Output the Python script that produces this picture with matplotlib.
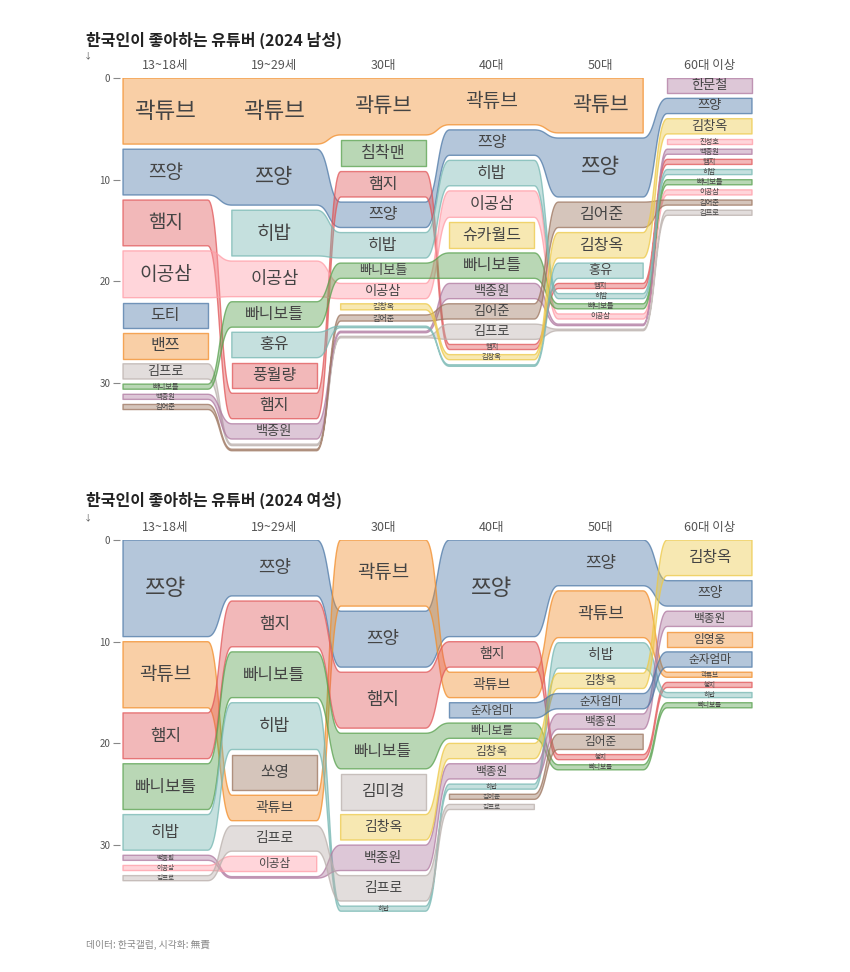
import numpy as np
import matplotlib
matplotlib.use('Agg')
import matplotlib.pyplot as plt
from matplotlib.patches import Polygon
from matplotlib.colors import to_rgba

plt.rcParams['font.family'] = ['Noto Sans CJK KR', 'DejaVu Sans']

# ---------------- data ----------------
age_groups = ['13~18세', '19~29세', '30대', '40대', '50대', '60대 이상']

male_1318 = [('곽튜브', 6.5), ('쯔양', 4.5), ('햄지', 4.5), ('이공삼', 4.6), ('도티', 2.5),
             ('밴쯔', 2.5), ('김프로', 1.5), ('빠니보틀', 0.5), ('백종원', 0.5), ('김어준', 0.5)]
male_1929 = [('곽튜브', 6.5), ('쯔양', 5.5), ('히밥', 4.5), ('이공삼', 3.5), ('빠니보틀', 2.5),
             ('홍유', 2.5), ('풍월량', 2.5), ('햄지', 2.5), ('백종원', 1.5)]
male_30 = [('곽튜브', 5.6), ('침착맨', 2.6), ('햄지', 2.5), ('쯔양', 2.5), ('히밥', 2.5),
           ('빠니보틀', 1.5), ('이공삼', 1.5), ('김창옥', 0.6), ('김어준', 0.6)]
male_40 = [('곽튜브', 4.6), ('쯔양', 2.5), ('히밥', 2.5), ('이공삼', 2.6), ('슈카월드', 2.5),
           ('빠니보틀', 2.5), ('백종원', 1.5), ('김어준', 1.5), ('김프로', 1.5), ('햄지', 0.5),
           ('김창옥', 0.5)]
male_50 = [('곽튜브', 5.4), ('쯔양', 5.8), ('김어준', 2.5), ('김창옥', 2.5), ('홍유', 1.5),
           ('햄지', 0.5), ('히밥', 0.5), ('빠니보틀', 0.5), ('이공삼', 0.5)]
male_60 = [('한문철', 1.5), ('쯔양', 1.5), ('김창옥', 1.5), ('진성호', 0.5), ('백종원', 0.5),
           ('햄지', 0.5), ('히밥', 0.5), ('빠니보틀', 0.5), ('이공삼', 0.5), ('김어준', 0.5),
           ('김프로', 0.5)]

female_1318 = [('쯔양', 9.5), ('곽튜브', 6.5), ('햄지', 4.5), ('빠니보틀', 4.5), ('히밥', 3.5),
               ('백종원', 0.5), ('이공삼', 0.5), ('김프로', 0.5)]
female_1929 = [('쯔양', 5.5), ('햄지', 4.5), ('빠니보틀', 4.5), ('히밥', 4.6), ('쏘영', 3.5),
               ('곽튜브', 2.5), ('김프로', 2.5), ('이공삼', 1.5)]
female_30 = [('곽튜브', 6.5), ('쯔양', 5.5), ('햄지', 5.5), ('빠니보틀', 3.5), ('김미경', 3.5),
             ('김창옥', 2.5), ('백종원', 2.5), ('김프로', 2.5), ('히밥', 0.5)]
female_40 = [('쯔양', 9.5), ('햄지', 2.5), ('곽튜브', 2.5), ('순자엄마', 1.5), ('빠니보틀', 1.5),
             ('김창옥', 1.5), ('백종원', 1.5), ('히밥', 0.5), ('김어준', 0.5), ('김프로', 0.5)]
female_50 = [('쯔양', 4.5), ('곽튜브', 4.6), ('히밥', 2.5), ('김창옥', 1.5), ('순자엄마', 1.5),
             ('백종원', 1.5), ('김어준', 1.5), ('햄지', 0.5), ('빠니보틀', 0.5)]
female_60 = [('김창옥', 3.5), ('쯔양', 2.5), ('백종원', 1.5), ('임영웅', 1.5), ('순자엄마', 1.5),
             ('곽튜브', 0.5), ('햄지', 0.5), ('히밥', 0.5), ('빠니보틀', 0.5)]

male_columns = [male_1318, male_1929, male_30, male_40, male_50, male_60]
female_columns = [female_1318, female_1929, female_30, female_40, female_50, female_60]

title_male = '한국인이 좋아하는 유튜버 (2024 남성)'
title_female = '한국인이 좋아하는 유튜버 (2024 여성)'
footer = '데이터: 한국갤럽, 시각화: 無責'

name_colors = {
    '쯔양': '#4e79a7', '도티': '#4e79a7', '순자엄마': '#4e79a7',
    '곽튜브': '#f28e2b', '밴쯔': '#f28e2b', '임영웅': '#f28e2b',
    '햄지': '#e15759', '풍월량': '#e15759',
    '히밥': '#76b7b2', '홍유': '#76b7b2',
    '빠니보틀': '#59a14f', '침착맨': '#59a14f',
    '김창옥': '#edc948', '슈카월드': '#edc948',
    '백종원': '#b07aa1', '한문철': '#b07aa1',
    '이공삼': '#ff9da7', '진성호': '#ff9da7',
    '김어준': '#9c755f', '쏘영': '#9c755f',
    '김프로': '#bab0ac', '김미경': '#bab0ac',
}

# ---------------- layout helpers ----------------
GAP = 0.5
ZERO_H = 0.15
HW = 0.39  # half bar width in column units


def layout(columns):
    spans = {}
    for ci, col in enumerate(columns):
        for n, v in col:
            if n not in spans:
                spans[n] = [ci, ci]
            spans[n][1] = ci
    pos = []
    for ci, col in enumerate(columns):
        y = 0.0
        d = {}
        for n, v in col:
            d[n] = (y, y + v, v)
            y += v + GAP
        missing = [n for n, (a, b) in spans.items() if a < ci < b and n not in d]
        if ci > 0:
            missing.sort(key=lambda n: pos[ci - 1][n][0])
        for n in missing:
            d[n] = (y, y + ZERO_H, 0)
            y += GAP
        pos.append(d)
    return spans, pos


def bump(x0, y0, x1, y1, n=30):
    t = np.linspace(0, 1, n)
    xm = (x0 + x1) / 2
    bx = (1 - t) ** 3 * x0 + 3 * (1 - t) ** 2 * t * xm + 3 * (1 - t) * t ** 2 * xm + t ** 3 * x1
    by = (1 - t) ** 3 * y0 + 3 * (1 - t) ** 2 * t * y0 + 3 * (1 - t) * t ** 2 * y1 + t ** 3 * y1
    return bx, by


def band_polygon(name, spans, pos):
    a, b = spans[name]
    top, bot = [], []
    for c in range(a, b + 1):
        t, btm, _ = pos[c][name]
        top += [(c - HW, t), (c + HW, t)]
        bot += [(c - HW, btm), (c + HW, btm)]
        if c < b:
            t2, b2, _ = pos[c + 1][name]
            bx, by = bump(c + HW, t, c + 1 - HW, t2)
            top += list(zip(bx[1:-1], by[1:-1]))
            bx, by = bump(c + HW, btm, c + 1 - HW, b2)
            bot += list(zip(bx[1:-1], by[1:-1]))
    return top + bot[::-1]


def label_size(v, vmax):
    r = v / vmax
    px = np.interp(r, [0.05, 0.08, 0.16, 0.25, 0.38, 0.68, 1.0],
                   [5.5, 6.2, 10.0, 11.5, 13.5, 16.0, 19.0])
    return px * 0.85


def draw_chart(ax, columns):
    spans, pos = layout(columns)
    vmax = max(v for col in columns for _, v in col)
    for name in spans:
        col = name_colors[name]
        poly = Polygon(band_polygon(name, spans, pos), closed=True,
                       facecolor=to_rgba(col, 0.42), edgecolor=to_rgba(col, 0.75),
                       linewidth=1.0, joinstyle='round', zorder=2)
        ax.add_patch(poly)
    for ci, col in enumerate(columns):
        for n, v in col:
            t, b, _ = pos[ci][n]
            ax.text(ci, (t + b) / 2, n, ha='center', va='center',
                    fontsize=label_size(v, vmax), color='#444444', zorder=5)
    for ci, g in enumerate(age_groups):
        ax.text(ci, -1.2, g, ha='center', va='center', fontsize=9, color='#555555',
                clip_on=False)
    ax.set_xlim(-0.4176, 5.4176)
    ax.set_ylim(37.2, 0)
    ax.set_yticks([0, 10, 20, 30])
    ax.tick_params(axis='y', length=5, width=0.8, color='#888888', labelsize=7,
                   labelcolor='#555555', pad=2)
    ax.tick_params(axis='x', bottom=False, labelbottom=False)
    for s in ax.spines.values():
        s.set_visible(False)


W, H = 850, 972
fig = plt.figure(figsize=(W / 100, H / 100), dpi=100)

scale = 10.17
ax_left = 120 / W
ax_w = 635 / W
ax_h = 37.2 * scale / H

ax1 = fig.add_axes([ax_left, 1 - (78 + 37.2 * scale) / H, ax_w, ax_h])
draw_chart(ax1, male_columns)
ax2 = fig.add_axes([ax_left, 1 - (540 + 37.2 * scale) / H, ax_w, ax_h])
draw_chart(ax2, female_columns)

fig.text(86 / W, 1 - 40 / H, title_male, fontsize=11.5, fontweight='bold',
         va='center', ha='left', color='#222222')
fig.text(86 / W, 1 - 500 / H, title_female, fontsize=11.5, fontweight='bold',
         va='center', ha='left', color='#222222')
fig.text(88 / W, 1 - 56 / H, '↓', fontsize=6, va='center', ha='center', color='#555555')
fig.text(88 / W, 1 - 518 / H, '↓', fontsize=6, va='center', ha='center', color='#555555')
fig.text(86 / W, 1 - 945 / H, footer, fontsize=7, va='center', ha='left', color='#888888')

fig.savefig('out.png', dpi=100)
